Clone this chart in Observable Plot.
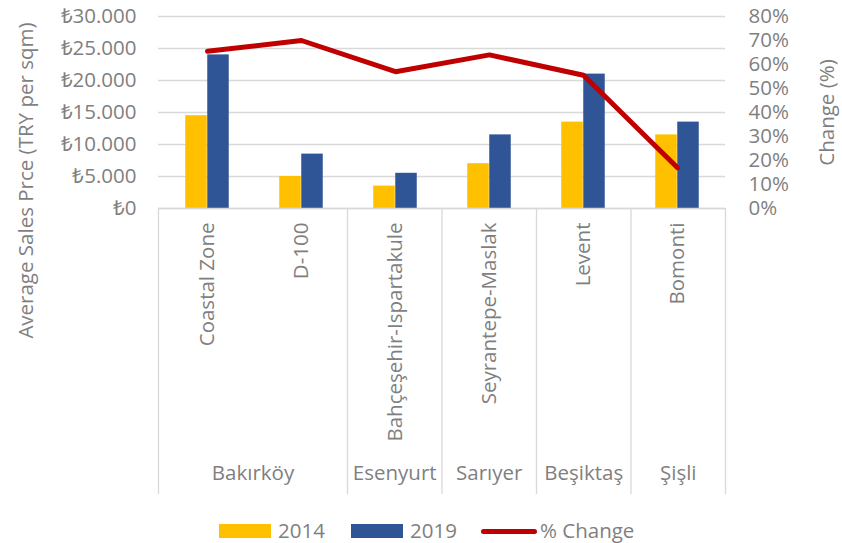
<!DOCTYPE html>
<html><head><meta charset="utf-8">
<script src="https://cdn.jsdelivr.net/npm/d3@7"></script>
<script src="https://cdn.jsdelivr.net/npm/@observablehq/plot@0.6"></script>
<style>
body{margin:0;background:#fff;}
#wrap{position:relative;width:842px;height:543px;font-family:"Open Sans",sans-serif;color:#7f7f7f;}
#wrap svg{position:absolute;left:0;top:0;background:transparent;overflow:visible;}
#legend{position:absolute;left:0;top:518px;width:842px;height:25px;font-size:20.5px;color:#7f7f7f;}
.sw{position:absolute;}
.lt{position:absolute;top:0;line-height:25px;}
</style></head><body>
<div id="wrap"><div id="legend"></div></div>
<script>
const categories = ["Coastal Zone","D-100","Bahçeşehir-Ispartakule","Seyrantepe-Maslak","Levent","Bomonti"];
const groups = ["Bakırköy","Bakırköy","Esenyurt","Sarıyer","Beşiktaş","Şişli"];
const values2014 = [14500, 5000, 3500, 7000, 13500, 11500];
const values2019 = [24000, 8500, 5500, 11500, 21000, 13500];
const pctChange = [0.655, 0.70, 0.57, 0.64, 0.555, 0.17];
const yTicks = [0, 5000, 10000, 15000, 20000, 25000, 30000];
const pctTicks = [0, 0.1, 0.2, 0.3, 0.4, 0.5, 0.6, 0.7, 0.8];
const seriesNames = ["2014", "2019", "% Change"];
const colors = ["#FFC000", "#2F5597", "#C00000"];
const leftTitle = "Average Sales Prce (TRY per sqm)";
const rightTitle = "Change (%)";

const W = 842, H = 500, mL = 158, mR = 117, mT = 16, mB = 292;
const FS = 20.5;
const font = {fontFamily: '"Open Sans", sans-serif', fontSize: FS + "px", color: "#7f7f7f", background: "transparent", overflow: "visible"};
const rows14 = categories.map((c, i) => ({cat: c, v: values2014[i]}));
const rows19 = categories.map((c, i) => ({cat: c, v: values2019[i]}));
const rowsP = categories.map((c, i) => ({cat: c, v: pctChange[i]}));
const bw = (W - mL - mR) / categories.length;
const barW = 22;

const fmtTRY = d => "₺" + d3.format(",")(d).replace(/,/g, ".");

const A = Plot.plot({
  width: W, height: H, marginLeft: mL, marginRight: mR, marginTop: mT, marginBottom: mB,
  style: font,
  x: {type: "band", domain: categories, padding: 0},
  y: {domain: [0, 30000]},
  marks: [
    Plot.ruleY(yTicks, {stroke: "#d9d9d9", strokeWidth: 1.3}),
    Plot.barY(rows14, {x: "cat", y: "v", fill: colors[0], insetLeft: bw/2 - barW, insetRight: bw/2}),
    Plot.barY(rows19, {x: "cat", y: "v", fill: colors[1], insetLeft: bw/2, insetRight: bw/2 - barW}),
    Plot.axisY({ticks: yTicks, tickFormat: fmtTRY, tickSize: 0, tickPadding: 22, label: null}),
    Plot.axisX({tickRotate: -90, tickSize: 0, tickPadding: 14, label: null}),
    Plot.text([leftTitle], {frameAnchor: "top-left", rotate: -90, textAnchor: "end", dx: -140, dy: 6, fontSize: FS, fill: "#7f7f7f"})
  ]
});

const B = Plot.plot({
  width: W, height: H, marginLeft: mL, marginRight: mR, marginTop: mT, marginBottom: mB,
  style: font,
  x: {type: "band", domain: categories, padding: 0, axis: null},
  y: {domain: [0, 0.8], axis: null},
  marks: [
    Plot.axisY({anchor: "right", ticks: pctTicks, tickFormat: d => Math.round(d*100) + "%", tickSize: 0, tickPadding: 23, label: null}),
    Plot.text([rightTitle], {frameAnchor: "right", rotate: -90, textAnchor: "middle", dx: 102, fontSize: FS, fill: "#7f7f7f"}),
    Plot.line(rowsP, {x: "cat", y: "v", stroke: colors[2], strokeWidth: 5, strokeLinecap: "round", strokeLinejoin: "round"})
  ]
});

// group structure
const bounds = [0];
const groupRows = [];
groups.forEach((g, i) => {
  if (i === groups.length - 1 || groups[i+1] !== g) {
    const start = bounds[bounds.length - 1];
    bounds.push(i + 1);
    groupRows.push({g, c: (start + i + 1) / 2});
  }
});
const C = Plot.plot({
  width: W, height: H, marginLeft: mL, marginRight: mR, marginTop: 208, marginBottom: H - 494,
  style: font,
  x: {type: "linear", domain: [0, categories.length], axis: null},
  y: {domain: [0, 1], axis: null},
  marks: [
    Plot.ruleX(bounds, {stroke: "#d9d9d9", strokeWidth: 1.3}),
    Plot.ruleY([1], {stroke: "#d9d9d9", strokeWidth: 1.3}),
    Plot.text(groupRows, {x: "c", frameAnchor: "bottom", dy: -14.5, text: "g", fontSize: FS, fill: "#7f7f7f"})
  ]
});

const wrap = document.getElementById("wrap");
wrap.appendChild(A); wrap.appendChild(B); wrap.appendChild(C);

// legend
const lg = document.getElementById("legend");
const items = [
  {type: "bar", x: 219, tx: 278},
  {type: "bar", x: 351, tx: 410},
  {type: "line", x: 481, tx: 540}
];
items.forEach((it, i) => {
  const s = document.createElement("div");
  s.className = "sw";
  if (it.type === "bar") {
    s.style.cssText = `left:${it.x}px;top:6px;width:52px;height:14px;background:${colors[i]}`;
  } else {
    s.style.cssText = `left:${it.x}px;top:10.5px;width:56px;height:5px;border-radius:3px;background:${colors[i]}`;
  }
  lg.appendChild(s);
  const t = document.createElement("div");
  t.className = "lt";
  t.style.left = it.tx + "px";
  t.textContent = seriesNames[i];
  lg.appendChild(t);
});
</script>
</body></html>
